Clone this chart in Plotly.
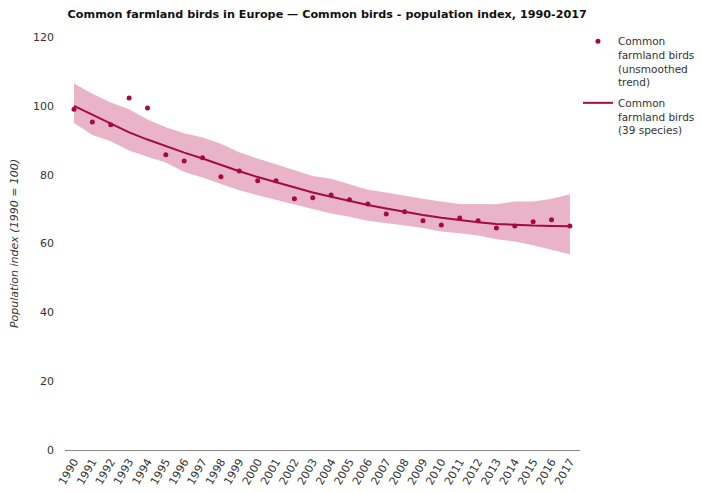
import plotly.graph_objects as go

years = list(range(1990, 2018))
unsmoothed = [99.0, 95.3, 94.5, 102.3, 99.4, 85.8, 84.0, 84.9, 79.4, 81.1,
              78.2, 78.2, 73.0, 73.3, 74.1, 72.7, 71.5, 68.6, 69.2, 66.6,
              65.4, 67.4, 66.6, 64.5, 65.1, 66.3, 66.9, 65.1]
trend = [100.0, 97.5, 94.8, 92.3, 90.2, 88.2, 86.4, 84.7, 82.8, 81.0,
         79.3, 77.8, 76.2, 74.8, 73.6, 72.3, 71.2, 70.2, 69.2, 68.3,
         67.5, 66.8, 66.2, 65.7, 65.4, 65.2, 65.1, 65.0]
upper = [106.5, 103.5, 101.0, 99.0, 96.0, 93.8, 92.0, 90.8, 89.0, 86.5,
         84.7, 83.0, 81.2, 79.6, 78.8, 77.2, 75.6, 74.8, 73.8, 73.0,
         72.2, 71.5, 71.5, 71.4, 72.2, 72.2, 73.0, 74.3]
lower = [95.0, 91.5, 89.7, 87.0, 85.2, 83.5, 80.8, 79.2, 77.3, 75.5,
         74.0, 72.6, 71.3, 70.0, 68.7, 67.8, 66.6, 66.0, 65.2, 64.5,
         63.5, 63.0, 62.3, 61.2, 60.6, 59.5, 58.2, 56.9]
y_ticks = [0, 20, 40, 60, 80, 100, 120]

RED = "#a50b3e"
BAND = "rgba(218,130,162,0.6)"
FONT = "DejaVu Sans"

# page body has an 8px margin, so the figure is drawn 8px smaller
W, H = 694, 484

fig = go.Figure()
fig.add_trace(go.Scatter(x=years, y=upper, mode="lines", line=dict(width=0),
                         showlegend=False, hoverinfo="skip"))
fig.add_trace(go.Scatter(x=years, y=lower, mode="lines", line=dict(width=0),
                         fill="tonexty", fillcolor=BAND,
                         showlegend=False, hoverinfo="skip"))
fig.add_trace(go.Scatter(x=years, y=unsmoothed, mode="markers",
                         marker=dict(color=RED, size=5), legendgroup="a",
                         name="Common<br>farmland birds<br>(unsmoothed<br>trend)"))
fig.add_trace(go.Scatter(x=years, y=trend, mode="lines", legendgroup="b",
                         line=dict(color=RED, width=2),
                         name="Common<br>farmland birds<br>(39 species)"))

fig.update_layout(
    width=W, height=H,
    margin=dict(l=57, r=122, t=29, b=42, autoexpand=False),
    paper_bgcolor="white", plot_bgcolor="white",
    font=dict(family=FONT, size=11, color="#333"),
    title=dict(text="<b>Common farmland birds in Europe — Common birds - population index, 1990-2017</b>",
               x=0.46, xanchor="center", y=1 - 6 / H, yanchor="middle",
               font=dict(family=FONT, size=11.2, color="#111")),
    legend=dict(x=0.996, xanchor="left", y=1.022, yanchor="top",
                traceorder="grouped", valign="top",
                font=dict(family=FONT, size=10.5, color="#333"),
                tracegroupgap=4, itemwidth=30),
    xaxis=dict(range=[1989.51, 2017.55], tickvals=years, automargin=False,
               ticktext=[str(y) for y in years], tickangle=-60,
               showgrid=False, zeroline=False, showline=True,
               linecolor="#888", linewidth=1, ticks="",
               tickfont=dict(size=11, color="#333")),
    yaxis=dict(range=[0, 120], tickvals=y_ticks, showgrid=False, automargin=True,
               zeroline=False, showline=False, ticks="", ticklabelstandoff=10,
               title=dict(text="<i>Population index (1990 = 100)</i>",
                          font=dict(size=11, color="#333"), standoff=30),
               tickfont=dict(size=11, color="#333")),
)

fig.write_html("out.html")
